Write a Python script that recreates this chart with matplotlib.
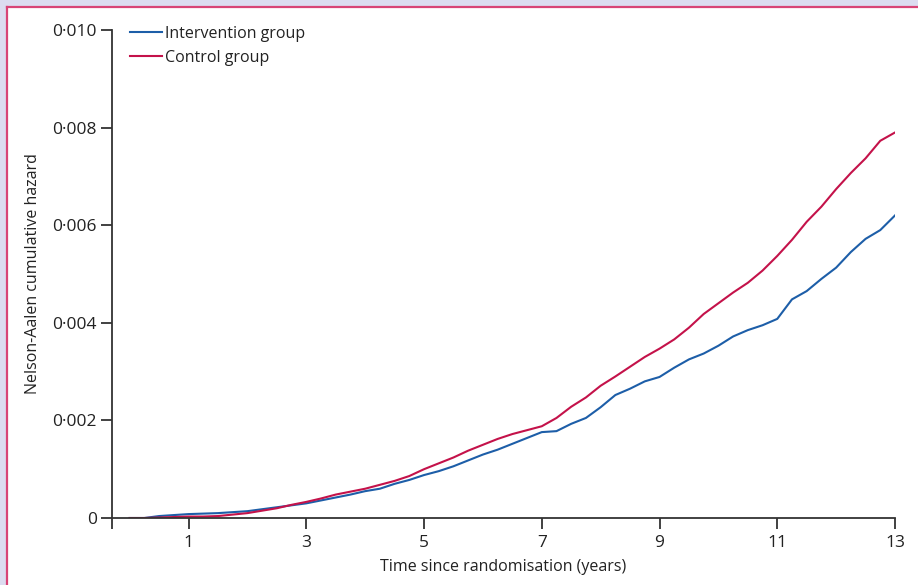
import matplotlib
matplotlib.use("Agg")
import matplotlib.pyplot as plt
from matplotlib.lines import Line2D
from matplotlib.patches import Rectangle

# data (years, cumulative hazard)
years = [0, 0.25, 0.5, 0.75, 1.0, 1.25, 1.5, 1.75, 2.0, 2.25, 2.5, 2.75,
         3.0, 3.25, 3.5, 3.75, 4.0, 4.25, 4.5, 4.75, 5.0, 5.25, 5.5, 5.75,
         6.0, 6.25, 6.5, 6.75, 7.0, 7.25, 7.5, 7.75, 8.0, 8.25, 8.5, 8.75,
         9.0, 9.25, 9.5, 9.75, 10.0, 10.25, 10.5, 10.75, 11.0, 11.25, 11.5,
         11.75, 12.0, 12.25, 12.5, 12.75, 13.0]

intervention = [0, 0, 0.00004, 0.00006, 0.00008, 0.00009, 0.0001, 0.00012,
                0.00014, 0.00018, 0.00022, 0.00026, 0.0003, 0.00036, 0.00042,
                0.00048, 0.00055, 0.0006, 0.0007, 0.00078, 0.00088, 0.00096,
                0.00106, 0.00118, 0.0013, 0.0014, 0.00152, 0.00164, 0.00176,
                0.00178, 0.00193, 0.00205, 0.00227, 0.00252, 0.00265, 0.0028,
                0.00289, 0.00308, 0.00325, 0.00337, 0.00353, 0.00372, 0.00385,
                0.00395, 0.00408, 0.00448, 0.00465, 0.0049, 0.00513, 0.00545,
                0.00572, 0.0059, 0.0062]

control = [0, 0, 0.00001, 0.00002, 0.00003, 0.00003, 0.00004, 0.00007,
           0.0001, 0.00015, 0.0002, 0.00027, 0.00033, 0.0004, 0.00048,
           0.00054, 0.0006, 0.00068, 0.00076, 0.00086, 0.001, 0.00112,
           0.00124, 0.00138, 0.0015, 0.00162, 0.00172, 0.0018, 0.00188,
           0.00205, 0.00228, 0.00247, 0.00271, 0.0029, 0.0031, 0.0033,
           0.00347, 0.00366, 0.0039, 0.00418, 0.0044, 0.00462, 0.00482,
           0.00507, 0.00537, 0.0057, 0.00607, 0.00638, 0.00674, 0.00707,
           0.00737, 0.00773, 0.0079]

x_ticks = [1, 3, 5, 7, 9, 11, 13]
y_ticks = [0, 0.002, 0.004, 0.006, 0.008, 0.010]
y_labels = ["0", "0·002", "0·004", "0·006", "0·008", "0·010"]

BLUE = "#1d5ea8"
RED = "#c4124a"
AXIS = "#333333"
TEXT = "#222222"

plt.rcParams["font.family"] = ["Open Sans", "DejaVu Sans"]

fig = plt.figure(figsize=(9.18, 5.85), dpi=100)
fig.patch.set_facecolor("#dcdcf0")
# white panel with the pink rule on top and left
panel = Rectangle((7 / 918, 0), 1, 1 - 7 / 585, transform=fig.transFigure,
                  facecolor="white", edgecolor="none", zorder=-5)
fig.add_artist(panel)
fig.add_artist(Line2D([7 / 918, 1], [1 - 6.5 / 585] * 2, transform=fig.transFigure,
                      color="#d84476", lw=1.6, zorder=-4))
fig.add_artist(Line2D([6.5 / 918] * 2, [0, 1 - 6.5 / 585], transform=fig.transFigure,
                      color="#d84476", lw=1.6, zorder=-4))

ax = fig.add_axes([112 / 918, 67 / 585, (895 - 112) / 918, (518 - 30) / 585])
ax.set_zorder(2)
ax.set_facecolor("none")

ax.plot(years, intervention, color=BLUE, lw=1.5, label="Intervention group")
ax.plot(years, control, color=RED, lw=1.5, label="Control group")

ax.set_xlim(-0.3, 13)
ax.set_ylim(0, 0.010)
ax.set_xticks([-0.3] + x_ticks)
ax.set_xticklabels([""] + [str(t) for t in x_ticks])
ax.set_yticks(y_ticks)
ax.set_yticklabels(y_labels)

for side in ["top", "right"]:
    ax.spines[side].set_visible(False)
for side in ["left", "bottom"]:
    ax.spines[side].set_color(AXIS)
    ax.spines[side].set_linewidth(1.3)
ax.tick_params(length=8, width=1.3, color=AXIS, labelsize=12.5, labelcolor=TEXT, pad=3)
ax.tick_params(axis="x", pad=4)

ax.set_xlabel("Time since randomisation (years)", fontsize=11.5, color=TEXT, labelpad=6)
ax.set_ylabel("Nelson-Aalen cumulative hazard", fontsize=11.5, color=TEXT, labelpad=8)

ax.legend(loc="upper left", bbox_to_anchor=(0.015, 1.022), frameon=False, fontsize=11.5,
          handlelength=2.0, handletextpad=0.2, labelspacing=0.5, borderaxespad=0,
          labelcolor=TEXT)

fig.savefig("out.png", dpi=100, facecolor=fig.get_facecolor())
